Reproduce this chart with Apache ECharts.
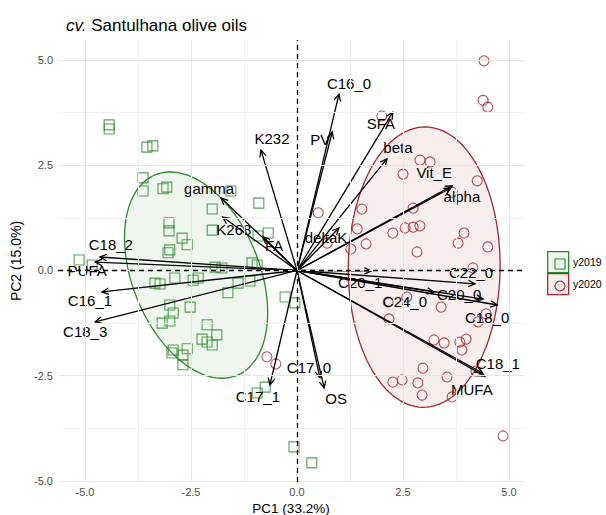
<!DOCTYPE html>
<html>
<head>
<meta charset="utf-8">
<script src="https://cdn.jsdelivr.net/npm/echarts@6/dist/echarts.min.js"></script>
<style>
  html, body { margin: 0; padding: 0; background: #fff; }
  #chart { width: 606px; height: 515px; }
</style>
</head>
<body>
<div id="chart"></div>
<script>
// PCA biplot, cv. Santulhana olive oils
const groups = ['y2019', 'y2020'];

// individual scores [PC1, PC2]
const scores2019 = [
  [-4.43, 3.46], [-4.43, 3.36], [-3.54, 2.93], [-3.40, 2.96], [-3.63, 2.20],
  [-3.63, 1.89], [-3.16, 1.94], [-3.07, 1.98], [-1.56, 1.89], [-0.90, 1.60],
  [-2.00, 1.46], [-2.00, 0.96], [-3.02, 1.13], [-3.02, 0.94], [-2.71, 0.77],
  [-2.59, 0.61], [-3.00, 0.49], [-3.04, 0.42], [-0.68, 0.89], [-0.92, 0.82],
  [-1.93, 0.08], [-1.77, 0.06], [-1.06, 0.18], [-0.94, 0.13], [-5.14, 0.25],
  [-4.83, 0.13], [-3.35, -0.30], [-3.23, -0.32], [-2.88, -0.18], [-2.45, -0.23],
  [-2.33, -0.18], [-1.39, -0.30], [-1.11, -0.25], [-1.63, -0.53], [-3.00, -0.82],
  [-2.92, -1.01], [-2.52, -0.87], [-3.18, -1.25], [-3.00, -1.20], [-2.12, -1.29],
  [-1.89, -1.53], [-2.24, -1.63], [-2.12, -1.70], [-2.00, -1.77], [-2.92, -1.89],
  [-2.95, -1.96], [-2.59, -1.86], [-2.69, -2.01], [-2.69, -2.24], [-0.75, -2.77],
  [-0.94, -2.91], [-0.28, -0.63], [-0.05, -0.77], [-0.07, -4.19], [0.35, -4.57]
];
const scores2020 = [
  [4.41, 4.98], [4.39, 4.04], [4.50, 3.88], [2.00, 3.67], [2.90, 2.62],
  [3.14, 2.58], [2.50, 2.29], [4.25, 2.13], [3.66, 1.86], [2.74, 1.48],
  [1.53, 1.46], [0.50, 1.37], [1.42, 0.99], [0.71, 0.65], [1.63, 0.63],
  [1.27, 0.51], [2.26, 0.89], [2.55, 1.01], [2.74, 1.03], [2.90, 1.06],
  [3.94, 0.89], [3.80, 0.65], [4.50, 0.56], [2.83, 0.44], [4.15, 0.06],
  [2.59, -0.63], [2.15, -0.75], [3.40, -0.87], [2.17, -1.15], [4.46, -1.03],
  [4.27, -1.22], [3.23, -1.65], [3.47, -1.72], [3.84, -1.70], [3.99, -1.63],
  [3.89, -1.89], [2.97, -2.32], [4.22, -2.39], [2.26, -2.65], [2.48, -2.60],
  [2.85, -2.67], [3.54, -2.53], [2.95, -2.96], [3.66, -3.00], [4.86, -3.93],
  [-0.71, -2.05], [-0.50, -2.22]
];

// variable loadings (arrow tips)
const loadingNames = ['C16_0', 'PV', 'SFA', 'beta', 'Vit_E', 'alpha', 'deltaK', 'K232', 'gamma',
  'K268', 'FA', 'C18_2', 'PUFA', 'C16_1', 'C18_3', 'C17_1', 'C17_0', 'OS', 'C20_1', 'C22_0',
  'C24_0', 'C20_0', 'C18_0', 'C18_1', 'MUFA'];
const loadingPC1 = [0.99, 0.83, 2.26, 2.12, 3.66, 3.63, 0.99, -0.85, -1.79,
  -1.75, -0.80, -4.65, -4.76, -4.60, -4.76, -0.64, 0.54, 0.64, 1.75, 4.20,
  3.23, 4.39, 4.72, 4.36, 4.43];
const loadingPC2 = [4.19, 3.29, 3.76, 2.65, 2.01, 1.96, 1.01, 2.86, 1.72,
  1.27, 0.80, 0.32, 0.20, -0.51, -1.22, -2.72, -2.55, -2.79, -0.01, -0.32,
  -0.51, -0.68, -0.82, -2.43, -2.51];

// concentration ellipses: centre x, centre y, semi-major, semi-minor, angle (deg)
const ellipse2019 = [-2.38, -0.11, 2.57, 1.50, 111.8];
const ellipse2020 = [3.00, 0.08, 3.33, 1.79, 89.5];

const xTicks = [-5, -2.5, 0, 2.5, 5];
const yTicks = [-5, -2.5, 0, 2.5, 5];
const gridMajor = [-5, -2.5, 0, 2.5, 5];
const gridMinor = [-3.75, -1.25, 1.25, 3.75];

// label placement (px offset from arrow tip), mimics the repelled labels
const labelNudge = {
  C16_0: [10, -11], PV: [-12, 8], SFA: [-12, 11], beta: [11, -11], Vit_E: [-18, -13],
  alpha: [11, 9], deltaK: [-13, 10], K232: [11, -12], gamma: [-12, -10], K268: [11, 12],
  FA: [11, 9], C18_2: [11, -13], PUFA: [-8, 8], C16_1: [-12, 9], C18_3: [-10, 10],
  C17_1: [-12, 11], C17_0: [-11, -10], OS: [12, 11], C20_1: [-11, 12], C22_0: [-4, -11],
  C24_0: [-29, 10], C20_0: [-24, -5], C18_0: [-10, 12], C18_1: [16, -9], MUFA: [-13, 13]
};

const FONT = '"Liberation Sans", Arial, Helvetica, sans-serif';
const GREEN = '#2a8a2a';
const RED = '#a8262b';

const chart = echarts.init(document.getElementById('chart'), null, { renderer: 'svg' });

function ellipseItem(params, api, stroke, fill) {
  const cx = api.value(0), cy = api.value(1);
  const a = api.value(2), b = api.value(3);
  const phi = api.value(4) * Math.PI / 180;
  const pts = [];
  for (let i = 0; i <= 120; i++) {
    const t = i / 120 * Math.PI * 2;
    const dx = a * Math.cos(t), dy = b * Math.sin(t);
    pts.push(api.coord([
      cx + dx * Math.cos(phi) - dy * Math.sin(phi),
      cy + dx * Math.sin(phi) + dy * Math.cos(phi)
    ]));
  }
  return {
    type: 'polygon',
    shape: { points: pts },
    style: { fill: fill, stroke: stroke, lineWidth: 1.3 }
  };
}

function arrowItem(params, api) {
  const name = loadingNames[params.dataIndex];
  const p0 = api.coord([0, 0]);
  const p1 = api.coord([api.value(0), api.value(1)]);
  const ang = Math.atan2(p1[1] - p0[1], p1[0] - p0[0]);
  const h = 7.5, w = Math.PI / 7;
  const h1 = [p1[0] - h * Math.cos(ang - w), p1[1] - h * Math.sin(ang - w)];
  const h2 = [p1[0] - h * Math.cos(ang + w), p1[1] - h * Math.sin(ang + w)];
  const nudge = labelNudge[name] || [0, -10];
  return {
    type: 'group',
    children: [
      { type: 'line', shape: { x1: p0[0], y1: p0[1], x2: p1[0], y2: p1[1] },
        style: { stroke: '#000', lineWidth: 1.3 } },
      { type: 'polyline', shape: { points: [h1, p1, h2] },
        style: { stroke: '#000', lineWidth: 1.3, fill: 'none' } },
      { type: 'text', x: p1[0] + nudge[0], y: p1[1] + nudge[1],
        style: { text: name, fontSize: 15, fontFamily: FONT, fill: '#000',
                 align: 'center', verticalAlign: 'middle' } }
    ]
  };
}

const option = {
  animation: false,
  backgroundColor: '#fff',
  title: {
    text: '{i|cv.} Santulhana olive oils',
    left: 61,
    top: 12,
    textStyle: {
      fontSize: 17, fontWeight: 'normal', color: '#000', fontFamily: FONT,
      rich: { i: { fontStyle: 'italic', fontSize: 17, color: '#000', fontFamily: FONT } }
    }
  },
  grid: { left: 58, top: 40, width: 466, height: 442, containLabel: false, outerBoundsMode: 'none' },
  xAxis: {
    type: 'value', min: -5.637, max: 5.354,
    axisLine: { show: false }, splitLine: { show: false },
    axisTick: { show: true, length: 3, lineStyle: { color: '#333' }, customValues: xTicks },
    axisLabel: { customValues: xTicks, formatter: v => v.toFixed(1), color: '#4d4d4d',
                 fontSize: 11, fontFamily: FONT, margin: 4 },
    name: 'PC1 (33.2%)', nameLocation: 'middle', nameGap: 19, nameMoveOverlap: false,
    nameTextStyle: { fontSize: 13.5, color: '#000', fontFamily: FONT }
  },
  yAxis: {
    type: 'value', min: -5.024, max: 5.475,
    axisLine: { show: false }, splitLine: { show: false },
    axisTick: { show: true, length: 3, lineStyle: { color: '#333' }, customValues: yTicks },
    axisLabel: { customValues: yTicks, formatter: v => v.toFixed(1), color: '#4d4d4d',
                 fontSize: 11, fontFamily: FONT, margin: 5 },
    name: 'PC2 (15.0%)', nameLocation: 'middle', nameGap: 31, nameRotate: 90,
    nameTextStyle: { fontSize: 14, color: '#000', fontFamily: FONT }
  },
  series: [
    {
      // panel grid
      type: 'scatter', data: [], z: 0, silent: true,
      markLine: {
        silent: true, symbol: ['none', 'none'], label: { show: false }, animation: false,
        data: gridMinor.map(v => ({ xAxis: v, lineStyle: { color: '#f1f1f1', width: 1, type: 'solid' } }))
          .concat(gridMinor.map(v => ({ yAxis: v, lineStyle: { color: '#f1f1f1', width: 1, type: 'solid' } })))
          .concat(gridMajor.map(v => ({ xAxis: v, lineStyle: { color: '#e6e6e6', width: 1, type: 'solid' } })))
          .concat(gridMajor.map(v => ({ yAxis: v, lineStyle: { color: '#e6e6e6', width: 1, type: 'solid' } })))
      }
    },
    {
      type: 'custom', name: groups[0] + ' ellipse', z: 1, silent: true, clip: false,
      data: [ellipse2019],
      renderItem: (p, api) => ellipseItem(p, api, GREEN, 'rgba(42,138,42,0.08)')
    },
    {
      type: 'custom', name: groups[1] + ' ellipse', z: 1, silent: true, clip: false,
      data: [ellipse2020],
      renderItem: (p, api) => ellipseItem(p, api, RED, 'rgba(168,38,43,0.08)')
    },
    {
      // dashed origin lines
      type: 'scatter', data: [], z: 2, silent: true,
      markLine: {
        silent: true, symbol: ['none', 'none'], label: { show: false }, animation: false,
        lineStyle: { color: '#000', width: 1.3, type: [5, 4] },
        data: [{ xAxis: 0 }, { yAxis: 0 }]
      }
    },
    {
      type: 'scatter', name: groups[0], z: 3, silent: true,
      symbol: 'rect', symbolSize: 10,
      itemStyle: { color: 'rgba(0,0,0,0)', borderColor: GREEN, borderWidth: 1.1 },
      data: scores2019
    },
    {
      type: 'scatter', name: groups[1], z: 3, silent: true,
      symbol: 'circle', symbolSize: 10,
      itemStyle: { color: 'rgba(0,0,0,0)', borderColor: RED, borderWidth: 1.1 },
      data: scores2020
    },
    {
      type: 'custom', name: 'variables', z: 4, silent: true, clip: false,
      data: loadingPC1.map((v, i) => [v, loadingPC2[i]]),
      renderItem: arrowItem
    }
  ],
  graphic: [
    { type: 'rect', left: 547, top: 251, shape: { width: 21, height: 21 },
      style: { fill: 'rgba(42,138,42,0.08)', stroke: GREEN, lineWidth: 1.3 } },
    { type: 'rect', left: 552.5, top: 256.5, shape: { width: 10, height: 10 },
      style: { fill: 'none', stroke: GREEN, lineWidth: 1.1 } },
    { type: 'text', left: 573, top: 256,
      style: { text: groups[0], fontSize: 10.5, fontFamily: FONT, fill: '#000' } },
    { type: 'rect', left: 547, top: 273, shape: { width: 21, height: 21 },
      style: { fill: 'rgba(168,38,43,0.08)', stroke: RED, lineWidth: 1.3 } },
    { type: 'circle', left: 552.5, top: 278.5, shape: { r: 5 },
      style: { fill: 'none', stroke: RED, lineWidth: 1.1 } },
    { type: 'text', left: 573, top: 278,
      style: { text: groups[1], fontSize: 10.5, fontFamily: FONT, fill: '#000' } }
  ]
};

chart.setOption(option);
</script>
</body>
</html>
